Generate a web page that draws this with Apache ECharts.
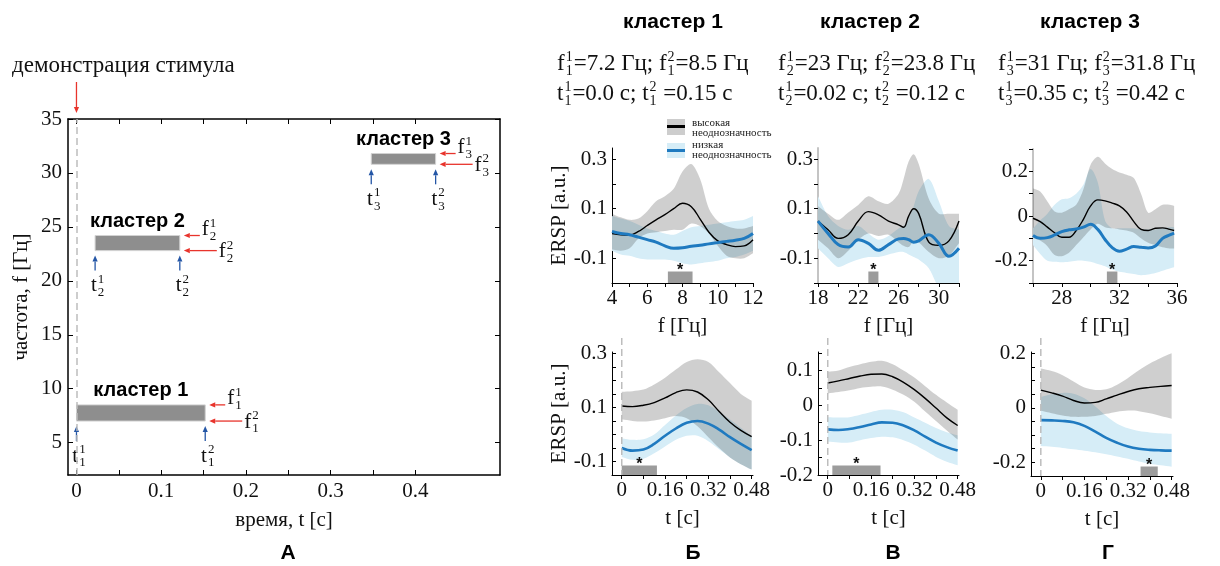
<!DOCTYPE html>
<html>
<head>
<meta charset="utf-8">
<script src="https://cdn.jsdelivr.net/npm/echarts@6/dist/echarts.min.js"></script>
<style>
  html, body { margin: 0; padding: 0; background: #fff; }
  #chart { width: 1220px; height: 566px; }
</style>
</head>
<body>
<div id="chart"></div>
<script>
// ---- Panel A: time / frequency windows of the clusters ----
const clusterNames = ['кластер 1', 'кластер 2', 'кластер 3'];
const clusterTime = [[0, 0.152], [0.022, 0.122], [0.348, 0.424]];
const clusterFreq = [[7.0, 8.5], [22.8, 24.2], [30.8, 31.8]];
const freqText = [['7.2', '8.5'], ['23', '23.8'], ['31', '31.8']];
const timeText = [['0.0', '0.15'], ['0.02', '0.12'], ['0.35', '0.42']];

// ---- Top row: ERSP vs frequency (high / low ambiguity, mean and band) ----
const freq1 = [4, 4.5, 5, 5.5, 6, 6.5, 7, 7.5, 8, 8.5, 9, 9.5, 10, 10.5, 11, 11.5, 12];
const high1 = [0.0, -0.005, -0.006, 0.008, 0.032, 0.055, 0.076, 0.1, 0.122, 0.108, 0.058, 0.005, -0.03, -0.045, -0.053, -0.05, -0.025];
const high1Hi = [0.08, 0.065, 0.055, 0.06, 0.09, 0.13, 0.15, 0.18, 0.25, 0.28, 0.22, 0.1, 0.05, 0.03, 0.02, 0.02, 0.03];
const high1Lo = [-0.065, -0.07, -0.06, -0.02, 0.0, 0.005, 0.01, 0.015, 0.015, 0.04, 0.03, 0.0, -0.05, -0.09, -0.1, -0.1, -0.08];
const low1 = [0.008, 0.0, -0.005, -0.015, -0.025, -0.035, -0.05, -0.06, -0.058, -0.052, -0.048, -0.042, -0.037, -0.032, -0.027, -0.02, 0.0];
const low1Hi = [0.07, 0.06, 0.05, 0.035, 0.02, 0.01, 0.0, -0.005, 0.01, 0.025, 0.03, 0.035, 0.04, 0.045, 0.05, 0.055, 0.07];
const low1Lo = [-0.07, -0.085, -0.09, -0.1, -0.105, -0.105, -0.105, -0.11, -0.12, -0.125, -0.12, -0.115, -0.11, -0.1, -0.095, -0.085, -0.07];

const freq2 = [18, 19, 20, 21, 22, 23, 24, 25, 26, 26.5, 27, 27.5, 28, 29, 30, 31, 32];
const high2 = [0.05, 0.015, -0.02, -0.005, 0.05, 0.088, 0.075, 0.05, 0.035, 0.025, 0.07, 0.1, 0.08, -0.035, -0.048, -0.03, 0.05];
const high2Hi = [0.11, 0.08, 0.055, 0.085, 0.115, 0.15, 0.13, 0.12, 0.16, 0.22, 0.29, 0.32, 0.28, 0.14, 0.08, 0.08, 0.08];
const high2Lo = [-0.025, -0.06, -0.1, -0.07, -0.025, 0.0, -0.01, -0.005, -0.035, -0.05, -0.055, -0.03, -0.035, -0.075, -0.1, -0.09, -0.04];
const low2 = [0.05, 0.0, -0.045, -0.055, -0.025, -0.04, -0.068, -0.045, -0.022, -0.02, -0.025, -0.035, -0.03, -0.005, -0.04, -0.092, -0.06];
const low2Hi = [0.15, 0.07, 0.03, 0.015, 0.03, 0.0, -0.025, -0.01, 0.02, 0.03, 0.06, 0.11, 0.17, 0.22, 0.13, 0.03, 0.015];
const low2Lo = [-0.06, -0.1, -0.135, -0.12, -0.105, -0.095, -0.095, -0.085, -0.075, -0.075, -0.085, -0.095, -0.105, -0.14, -0.22, -0.26, -0.25];

const freq3 = [26, 26.5, 27, 27.5, 28, 28.5, 29, 29.5, 30, 30.5, 31, 31.5, 32, 32.5, 33, 33.5, 34, 34.5, 35, 35.5, 35.8];
const high3 = [-0.01, -0.025, -0.05, -0.075, -0.095, -0.095, -0.065, -0.015, 0.045, 0.072, 0.068, 0.058, 0.045, 0.018, -0.025, -0.06, -0.065, -0.055, -0.053, -0.06, -0.065];
const high3Hi = [0.123, 0.11, 0.065, 0.02, 0.015, 0.03, 0.05, 0.12, 0.23, 0.265, 0.235, 0.21, 0.195, 0.185, 0.17, 0.1, 0.015, 0.03, 0.05, 0.05, 0.045];
const high3Lo = [-0.1, -0.11, -0.135, -0.175, -0.18, -0.165, -0.13, -0.095, -0.06, -0.035, -0.05, -0.055, -0.06, -0.065, -0.075, -0.1, -0.12, -0.13, -0.14, -0.145, -0.145];
const low3 = [-0.087, -0.1, -0.097, -0.085, -0.07, -0.062, -0.058, -0.05, -0.037, -0.06, -0.105, -0.142, -0.158, -0.148, -0.137, -0.14, -0.143, -0.134, -0.1, -0.085, -0.077];
const low3Hi = [-0.055, -0.02, 0.01, 0.05, 0.075, 0.08, 0.1, 0.14, 0.21, 0.15, -0.02, -0.055, -0.055, -0.055, -0.055, -0.06, -0.06, -0.06, -0.055, -0.05, -0.05];
const low3Lo = [-0.13, -0.17, -0.2, -0.205, -0.207, -0.205, -0.2, -0.2, -0.205, -0.215, -0.225, -0.24, -0.25, -0.255, -0.26, -0.265, -0.262, -0.255, -0.245, -0.235, -0.23];

// ---- Bottom row: ERSP vs time ----
const time = [0, 0.04, 0.08, 0.12, 0.16, 0.2, 0.24, 0.28, 0.32, 0.36, 0.4, 0.44, 0.48];
const tHigh1 = [0.105, 0.103, 0.108, 0.118, 0.135, 0.155, 0.165, 0.157, 0.128, 0.085, 0.045, 0.015, -0.008];
const tHigh1Hi = [0.158, 0.16, 0.166, 0.185, 0.21, 0.24, 0.268, 0.278, 0.268, 0.23, 0.19, 0.15, 0.125];
const tHigh1Lo = [0.056, 0.05, 0.048, 0.052, 0.06, 0.068, 0.06, 0.03, -0.01, -0.05, -0.085, -0.11, -0.13];
const tLow1 = [-0.05, -0.06, -0.056, -0.035, -0.005, 0.022, 0.043, 0.05, 0.04, 0.018, -0.01, -0.035, -0.058];
const tLow1Hi = [-0.015, -0.02, -0.018, 0.0, 0.035, 0.07, 0.098, 0.113, 0.108, 0.085, 0.055, 0.025, -0.005];
const tLow1Lo = [-0.083, -0.094, -0.09, -0.07, -0.045, -0.02, -0.005, -0.005, -0.025, -0.055, -0.085, -0.11, -0.13];

const tHigh2 = [0.064, 0.07, 0.077, 0.084, 0.089, 0.09, 0.082, 0.066, 0.045, 0.02, -0.008, -0.036, -0.058];
const tHigh2Hi = [0.096, 0.1, 0.11, 0.118, 0.125, 0.128, 0.118, 0.1, 0.08, 0.055, 0.03, 0.008, -0.013];
const tHigh2Lo = [0.034, 0.038, 0.043, 0.05, 0.053, 0.054, 0.045, 0.03, 0.01, -0.018, -0.045, -0.072, -0.098];
const tLow2 = [-0.069, -0.071, -0.068, -0.062, -0.055, -0.049, -0.05, -0.058, -0.072, -0.09, -0.107, -0.12, -0.13];
const tLow2Hi = [-0.034, -0.035, -0.034, -0.027, -0.019, -0.013, -0.013, -0.02, -0.035, -0.05, -0.065, -0.077, -0.086];
const tLow2Lo = [-0.104, -0.107, -0.107, -0.1, -0.094, -0.09, -0.092, -0.1, -0.113, -0.13, -0.148, -0.162, -0.172];

const tHigh3 = [0.065, 0.055, 0.043, 0.027, 0.018, 0.02, 0.033, 0.047, 0.06, 0.07, 0.075, 0.079, 0.082];
const tHigh3Hi = [0.144, 0.135, 0.12, 0.097, 0.075, 0.066, 0.068, 0.085, 0.11, 0.138, 0.163, 0.183, 0.2];
const tHigh3Lo = [-0.01, -0.02, -0.028, -0.033, -0.033, -0.03, -0.022, -0.014, -0.01, -0.012, -0.02, -0.03, -0.04];
const tLow3 = [-0.045, -0.046, -0.048, -0.053, -0.066, -0.087, -0.11, -0.128, -0.142, -0.15, -0.154, -0.156, -0.157];
const tLow3Hi = [0.04, 0.05, 0.055, 0.052, 0.035, 0.005, -0.03, -0.058, -0.075, -0.085, -0.09, -0.093, -0.095];
const tLow3Lo = [-0.14, -0.143, -0.147, -0.152, -0.157, -0.163, -0.17, -0.178, -0.187, -0.197, -0.205, -0.211, -0.216];

// significant ranges (grey bars marked with *)
const sigFreq = [[7.17, 8.57], [23.0, 24.0], [31.13, 31.86]];
const sigTime = [[0, 0.13], [0.017, 0.195], [0.366, 0.429]];

// ---- ticks and tick labels ----
const aTimeTicks = [0, 0.05, 0.1, 0.15, 0.2, 0.25, 0.3, 0.35, 0.4];
const aTimeLabels = [0, 0.1, 0.2, 0.3, 0.4];
const aFreqTicks = [5, 10, 15, 20, 25, 30, 35];
const fTicks1 = [4, 5, 6, 7, 8, 9, 10, 11, 12];
const fLabels1 = [4, 6, 8, 10, 12];
const fTicks2 = [18, 20, 22, 24, 26, 28, 30, 32];
const fLabels2 = [18, 22, 26, 30];
const fTicks3 = [26, 28, 30, 32, 34, 36];
const fLabels3 = [28, 32, 36];
const ersTicksTop = [-0.2, -0.1, 0, 0.1, 0.2, 0.3];
const ersLabelsTop = [-0.1, 0.1, 0.3];
const ersTicksTop3 = [-0.3, -0.2, -0.1, 0, 0.1, 0.2, 0.3];
const ersLabelsTop3 = [-0.2, 0, 0.2];
const tTicks = [0, 0.08, 0.16, 0.24, 0.32, 0.4, 0.48];
const tLabels = [0, 0.16, 0.32, 0.48];
const ersTicksBot1 = [-0.15, -0.1, -0.05, 0, 0.05, 0.1, 0.15, 0.2, 0.25, 0.3];
const ersLabelsBot1 = [-0.1, 0.1, 0.3];
const ersTicksBot2 = [-0.2, -0.15, -0.1, -0.05, 0, 0.05, 0.1, 0.15];
const ersLabelsBot2 = [-0.2, -0.1, 0, 0.1];
const ersTicksBot3 = [-0.25, -0.2, -0.15, -0.1, -0.05, 0, 0.05, 0.1, 0.15, 0.2];
const ersLabelsBot3 = [-0.2, 0, 0.2];

const SERIF = 'Liberation Serif';
const SANS = 'Liberation Sans';
const BLUE = '#1f7ac0';
const GRAY_BAND = '#cdcdcd';
// dark veil over the blue band so that the overlap turns grey-blue
const GRAY_VEIL = 'rgba(36,36,36,0.22)';
const BLUE_BAND = '#d6edf7';

// small panels (top row: frequency, bottom row: time)
const panels = [
  {grid: {left: 612, top: 148, width: 141, height: 135}, xMin: 4, xMax: 12, xTicks: fTicks1, xLabels: fLabels1, xName: 'f [Гц]',
   yMin: -0.2, yMax: 0.345, yTicks: ersTicksTop, yLabels: ersLabelsTop, yName: 'ERSP [a.u.]', yLine: '#000',
   xs: freq1, high: [high1, high1Lo, high1Hi], low: [low1, low1Lo, low1Hi], sig: sigFreq[0], sigH: 11.5, lw: 3},
  {grid: {left: 818, top: 148, width: 141, height: 135}, xMin: 18, xMax: 32, xTicks: fTicks2, xLabels: fLabels2, xName: 'f [Гц]',
   yMin: -0.2, yMax: 0.345, yTicks: ersTicksTop, yLabels: ersLabelsTop, yName: '', yLine: '#c4c4c4',
   xs: freq2, high: [high2, high2Lo, high2Hi], low: [low2, low2Lo, low2Hi], sig: sigFreq[1], sigH: 11.5, lw: 3},
  {grid: {left: 1033, top: 149, width: 144, height: 134}, xMin: 26, xMax: 36, xTicks: fTicks3, xLabels: fLabels3, xName: 'f [Гц]',
   yMin: -0.3, yMax: 0.3, yTicks: ersTicksTop3, yLabels: ersLabelsTop3, yName: '', yLine: '#c4c4c4',
   xs: freq3, high: [high3, high3Lo, high3Hi], low: [low3, low3Lo, low3Hi], sig: sigFreq[2], sigH: 11.5, lw: 3},
  {grid: {left: 612, top: 352, width: 141, height: 123}, xMin: -0.036, xMax: 0.485, xTicks: tTicks, xLabels: tLabels, xName: 't [с]',
   yMin: -0.15, yMax: 0.305, yTicks: ersTicksBot1, yLabels: ersLabelsBot1, yName: 'ERSP [a.u.]', yLine: '#000',
   xs: time, high: [tHigh1, tHigh1Lo, tHigh1Hi], low: [tLow1, tLow1Lo, tLow1Hi], sig: sigTime[0], sigH: 9.5, lw: 2.6, stim: true},
  {grid: {left: 818, top: 352, width: 141, height: 123}, xMin: -0.036, xMax: 0.485, xTicks: tTicks, xLabels: tLabels, xName: 't [с]',
   yMin: -0.2, yMax: 0.153, yTicks: ersTicksBot2, yLabels: ersLabelsBot2, yName: '', yLine: '#000',
   xs: time, high: [tHigh2, tHigh2Lo, tHigh2Hi], low: [tLow2, tLow2Lo, tLow2Hi], sig: sigTime[1], sigH: 9.5, lw: 2.6, stim: true},
  {grid: {left: 1031, top: 352, width: 142, height: 124}, xMin: -0.036, xMax: 0.485, xTicks: tTicks, xLabels: tLabels, xName: 't [с]',
   yMin: -0.25, yMax: 0.205, yTicks: ersTicksBot3, yLabels: ersLabelsBot3, yName: '', yLine: '#000',
   xs: time, high: [tHigh3, tHigh3Lo, tHigh3Hi], low: [tLow3, tLow3Lo, tLow3Hi], sig: sigTime[2], sigH: 9.5, lw: 2.6, stim: true}
];

const labelStyle = {fontFamily: SERIF, fontSize: 21, color: '#111'};

function bandSeries(k, xs, lo, hi, color, z) {
  return {
    type: 'custom', xAxisIndex: k, yAxisIndex: k, clip: true, silent: true, z: z,
    data: [[xs[0], lo[0]]],
    renderItem: (params, api) => {
      const last = xs.length - 1;
      const pts = [api.coord([xs[0], hi[0]])];
      xs.forEach((x, i) => pts.push(api.coord([x, hi[i]])));
      pts.push(api.coord([xs[last], hi[last]]));
      pts.push(api.coord([xs[last], lo[last]]));
      for (let i = last; i >= 0; i--) pts.push(api.coord([xs[i], lo[i]]));
      pts.push(api.coord([xs[0], lo[0]]));
      return {type: 'polygon', shape: {points: pts, smooth: 0.3}, style: {fill: color}};
    }
  };
}

function curveSeries(k, xs, ys, color, width) {
  return {
    type: 'line', xAxisIndex: k, yAxisIndex: k, silent: true, z: 3,
    data: xs.map((x, i) => [x, ys[i]]),
    symbol: 'none', showSymbol: false, smooth: 0.4,
    lineStyle: {color: color, width: width}
  };
}

function sigSeries(k, range, yMin, h) {
  return {
    type: 'custom', xAxisIndex: k, yAxisIndex: k, silent: true, z: 4,
    data: [[range[0], yMin, range[1]]],
    renderItem: (params, api) => {
      const a = api.coord([api.value(0), api.value(1)]);
      const b = api.coord([api.value(2), api.value(1)]);
      return {type: 'group', children: [
        {type: 'rect', shape: {x: a[0], y: a[1] - h, width: b[0] - a[0], height: h}, style: {fill: '#9c9c9c'}},
        {type: 'text', x: (a[0] + b[0]) / 2, y: a[1] - h - 1,
         style: {text: '*', font: 'bold 16px "' + SANS + '"', fill: '#111',
                 align: 'center', verticalAlign: 'middle', textAlign: 'center', textVerticalAlign: 'middle'}}
      ]};
    }
  };
}

// ---- option ----
const grids = [{left: 68, top: 119, width: 432, height: 356, outerBoundsMode: 'none'}];
const xAxes = [
  {type: 'value', gridIndex: 0, min: -0.01, max: 0.5,
   axisLine: {onZero: false, lineStyle: {color: '#000', width: 1.5}},
   axisTick: {inside: true, length: 5, customValues: aTimeTicks, lineStyle: {color: '#000'}},
   axisLabel: Object.assign({customValues: aTimeLabels, margin: 6, hideOverlap: false}, labelStyle),
   splitLine: {show: false},
   name: 'время, t [с]', nameLocation: 'middle', nameGap: 35, nameTextStyle: labelStyle},
  {type: 'value', gridIndex: 0, position: 'top', min: -0.01, max: 0.5,
   axisLine: {onZero: false, lineStyle: {color: '#000', width: 1.5}},
   axisTick: {inside: true, length: 5, customValues: aTimeTicks, lineStyle: {color: '#000'}},
   axisLabel: {show: false}, splitLine: {show: false}}
];
const yAxes = [
  {type: 'value', gridIndex: 0, min: 2, max: 35,
   axisLine: {onZero: false, lineStyle: {color: '#000', width: 1.5}},
   axisTick: {inside: true, length: 5, customValues: aFreqTicks, lineStyle: {color: '#000'}},
   axisLabel: Object.assign({customValues: aFreqTicks, margin: 6, hideOverlap: false}, labelStyle),
   splitLine: {show: false},
   name: 'частота, f [Гц]', nameLocation: 'middle', nameGap: 36, nameTextStyle: labelStyle},
  {type: 'value', gridIndex: 0, position: 'right', min: 2, max: 35,
   axisLine: {onZero: false, lineStyle: {color: '#000', width: 1.5}},
   axisTick: {inside: true, length: 5, customValues: aFreqTicks, lineStyle: {color: '#000'}},
   axisLabel: {show: false}, splitLine: {show: false}}
];
const series = [{
  type: 'custom', xAxisIndex: 0, yAxisIndex: 0, silent: true, z: 2,
  data: clusterTime.map((t, i) => [t[0], t[1], clusterFreq[i][0], clusterFreq[i][1]]),
  renderItem: (params, api) => {
    const p0 = api.coord([api.value(0), api.value(3)]);
    const p1 = api.coord([api.value(1), api.value(2)]);
    return {type: 'rect', shape: {x: p0[0], y: p0[1], width: p1[0] - p0[0], height: p1[1] - p0[1]},
            style: {fill: '#8e8e8e', stroke: '#d2d2d2', lineWidth: 1}};
  },
  markLine: {
    silent: true, symbol: 'none', label: {show: false},
    lineStyle: {type: [7, 4], color: '#bdbdbd', width: 1.5},
    data: [{xAxis: 0}]
  }
}];

panels.forEach((p, i) => {
  const k = i + 2;
  grids.push(Object.assign({outerBoundsMode: 'none'}, p.grid));
  xAxes.push({
    type: 'value', gridIndex: i + 1, min: p.xMin, max: p.xMax,
    axisLine: {onZero: false, lineStyle: {color: '#000', width: 1}},
    axisTick: {inside: false, length: 4, customValues: p.xTicks, lineStyle: {color: '#000'}},
    axisLabel: Object.assign({customValues: p.xLabels, margin: 5, hideOverlap: false}, labelStyle),
    splitLine: {show: false},
    name: p.xName, nameLocation: 'middle', nameGap: 33, nameTextStyle: labelStyle
  });
  yAxes.push({
    type: 'value', gridIndex: i + 1, min: p.yMin, max: p.yMax,
    axisLine: {onZero: false, lineStyle: {color: p.yLine, width: p.yLine === '#000' ? 1 : 2}},
    axisTick: {inside: p.yLine === '#000', length: 4, customValues: p.yTicks, lineStyle: {color: '#000'}},
    axisLabel: Object.assign({customValues: p.yLabels, margin: 5, hideOverlap: false}, labelStyle),
    splitLine: {show: false},
    name: p.yName, nameLocation: 'middle', nameGap: 37, nameTextStyle: labelStyle
  });
  series.push(bandSeries(k, p.xs, p.low[1], p.low[2], BLUE_BAND, 1));
  series.push(bandSeries(k, p.xs, p.high[1], p.high[2], GRAY_VEIL, 2));
  series.push(curveSeries(k, p.xs, p.high[0], '#000', 1.4));
  series.push(curveSeries(k, p.xs, p.low[0], BLUE, p.lw));
  series.push(sigSeries(k, p.sig, p.yMin, p.sigH));
});

const chart = echarts.init(document.getElementById('chart'));
chart.setOption({
  animation: false,
  backgroundColor: '#fff',
  textStyle: {fontFamily: SERIF},
  grid: grids,
  xAxis: xAxes,
  yAxis: yAxes,
  series: series
});

// ---- annotations ----
const measureCtx = document.createElement('canvas').getContext('2d');
function textWidth(s, font) {
  measureCtx.font = font;
  return measureCtx.measureText(s).width;
}
function txt(x, y, s, font, align, color) {
  return {type: 'text', x: x, y: y, silent: true,
    style: {text: s, font: font, fill: color || '#111', align: align || 'left', verticalAlign: 'middle',
            textAlign: align || 'left', textVerticalAlign: 'middle'}};
}
// parts: plain strings or [letter, superscript, subscript]
function mathText(x, y, parts, size, align) {
  const font = size + 'px "' + SERIF + '"';
  const small = Math.round(size * 0.62) + 'px "' + SERIF + '"';
  const children = [];
  let cx = 0;
  parts.forEach(part => {
    if (typeof part === 'string') {
      children.push(txt(cx, 0, part, font));
      cx += textWidth(part, font);
    } else {
      children.push(txt(cx, 0, part[0], font));
      cx += textWidth(part[0], font) + 1;
      children.push(txt(cx, -size * 0.3, part[1], small));
      children.push(txt(cx, size * 0.33, part[2], small));
      cx += Math.max(textWidth(part[1], small), textWidth(part[2], small)) + 1;
    }
  });
  return {type: 'group', x: align === 'center' ? x - cx / 2 : x, y: y, silent: true, children: children};
}
function arrow(x1, y1, x2, y2, color) {
  const ang = Math.atan2(y2 - y1, x2 - x1);
  const len = 6, half = 2.6;
  const bx = x2 - len * Math.cos(ang), by = y2 - len * Math.sin(ang);
  const px = -Math.sin(ang) * half, py = Math.cos(ang) * half;
  return [
    {type: 'line', silent: true, shape: {x1: x1, y1: y1, x2: bx, y2: by}, style: {stroke: color, lineWidth: 1.3}},
    {type: 'polygon', silent: true, shape: {points: [[x2, y2], [bx + px, by + py], [bx - px, by - py]]}, style: {fill: color}}
  ];
}

const RED = '#e8342c';
const DARKBLUE = '#2456a6';
const g = [];

// stimulus onset
const stimX = chart.convertToPixel({gridIndex: 0}, [0, 35])[0];
g.push(txt(12, 66, 'демонстрация стимула', '23px "' + SERIF + '"'));
g.push(...arrow(stimX, 82, stimX, 113, RED));

// onset markers in the bottom row, drawn a little above each plot
panels.forEach((p, i) => {
  if (!p.stim) return;
  const top = chart.convertToPixel({gridIndex: i + 1}, [0, p.yMax]);
  const bottom = chart.convertToPixel({gridIndex: i + 1}, [0, p.yMin]);
  g.push({type: 'line', silent: true, z: 10, shape: {x1: top[0], y1: top[1] - 14, x2: bottom[0], y2: bottom[1]},
          style: {stroke: '#bdbdbd', lineWidth: 1.5, lineDash: [7, 4]}});
});

// cluster windows in panel A
clusterNames.forEach((name, i) => {
  const n = String(i + 1);
  const tl = chart.convertToPixel({gridIndex: 0}, [clusterTime[i][0], clusterFreq[i][1]]);
  const br = chart.convertToPixel({gridIndex: 0}, [clusterTime[i][1], clusterFreq[i][0]]);
  g.push(txt((tl[0] + br[0]) / 2, tl[1] - 14, name, 'bold 20px "' + SANS + '"', 'center', '#000'));
  g.push(...arrow(br[0] + 20, tl[1], br[0] + 4, tl[1], RED));
  g.push(mathText(br[0] + 22, tl[1] - 6, [['f', '1', n]], 21));
  g.push(...arrow(br[0] + 37, br[1], br[0] + 4, br[1], RED));
  g.push(mathText(br[0] + 39, br[1] + 1, [['f', '2', n]], 21));
  g.push(...arrow(tl[0], br[1] + 20, tl[0], br[1] + 5, DARKBLUE));
  g.push(mathText(tl[0] + 3, br[1] + 35, [['t', '1', n]], 21, 'center'));
  g.push(...arrow(br[0], br[1] + 20, br[0], br[1] + 5, DARKBLUE));
  g.push(mathText(br[0] + 3, br[1] + 35, [['t', '2', n]], 21, 'center'));
});

// column headers
const headX = [673, 870, 1090];
const formulaX = [557, 778, 998];
clusterNames.forEach((name, i) => {
  const n = String(i + 1);
  g.push(txt(headX[i], 22, name, 'bold 21px "' + SANS + '"', 'center', '#000'));
  g.push(mathText(formulaX[i], 64, [['f', '1', n], '=' + freqText[i][0] + ' Гц; ', ['f', '2', n], '=' + freqText[i][1] + ' Гц'], 23));
  g.push(mathText(formulaX[i], 94, [['t', '1', n], '=' + timeText[i][0] + ' с; ', ['t', '2', n], ' =' + timeText[i][1] + ' с'], 23));
});

// legend
g.push({type: 'rect', silent: true, shape: {x: 667, y: 119, width: 18, height: 16}, style: {fill: GRAY_BAND}});
g.push({type: 'line', silent: true, shape: {x1: 667, y1: 126.5, x2: 685, y2: 126.5}, style: {stroke: '#000', lineWidth: 3}});
g.push({type: 'rect', silent: true, shape: {x: 667, y: 143, width: 18, height: 15}, style: {fill: BLUE_BAND}});
g.push({type: 'line', silent: true, shape: {x1: 667, y1: 150.5, x2: 685, y2: 150.5}, style: {stroke: BLUE, lineWidth: 3}});
const legFont = '11px "' + SERIF + '"';
g.push(txt(692, 123, 'высокая', legFont, 'left', '#222'));
g.push(txt(692, 133, 'неоднозначность', legFont, 'left', '#222'));
g.push(txt(692, 145, 'низкая', legFont, 'left', '#222'));
g.push(txt(692, 155, 'неоднозначность', legFont, 'left', '#222'));

// panel letters
const letters = ['А', 'Б', 'В', 'Г'];
const letterX = [288, 693, 893, 1108];
letters.forEach((l, i) => g.push(txt(letterX[i], 553, l, 'bold 21px "' + SANS + '"', 'center', '#000')));

chart.setOption({graphic: {elements: g}});
</script>
</body>
</html>
